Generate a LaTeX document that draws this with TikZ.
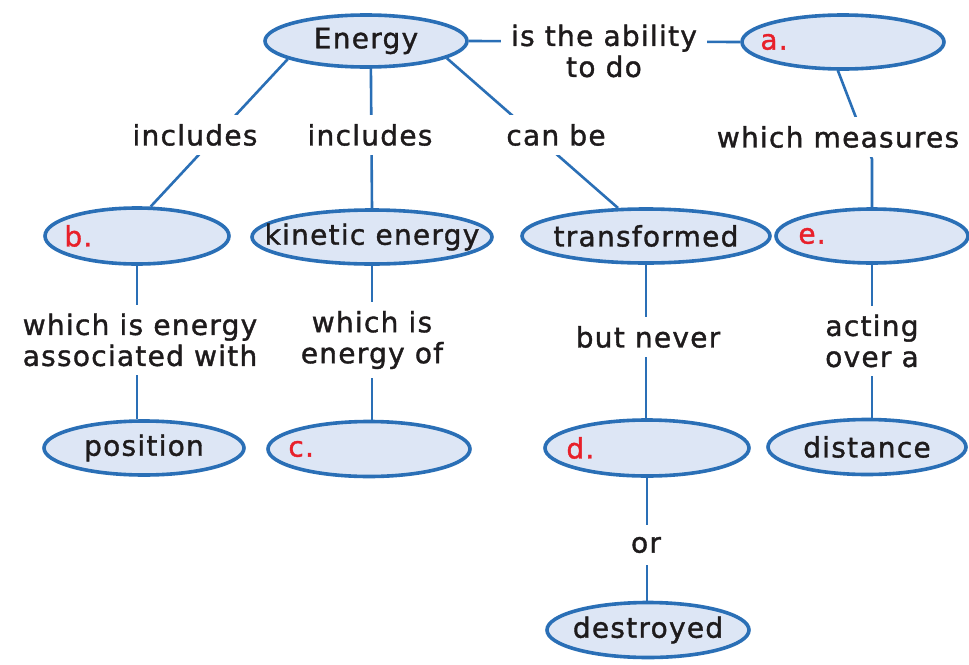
\documentclass[tikz,border=0pt]{standalone}
\usepackage{fontspec}
\setmainfont{DejaVu Sans}[LetterSpace=4.5, FakeBold=1.3]
\usetikzlibrary{shapes.geometric,backgrounds}
\definecolor{ebord}{HTML}{2A6FB6}
\definecolor{efill}{HTML}{DDE6F5}
\definecolor{ered}{HTML}{E8202A}
\definecolor{etxt}{HTML}{1E1B1C}
\begin{document}
\begin{tikzpicture}[x=1pt,y=-1pt,
  font=\fontsize{28}{31}\selectfont,
  ell/.style={ellipse, draw=ebord, fill=efill, line width=3.6pt, inner sep=0pt},
  etext/.style={text=etxt, inner sep=0pt},
  lbl/.style={fill=white, inner xsep=10pt, inner ysep=9pt, align=center, text=etxt},
  con/.style={draw=ebord, line width=2.6pt},
  ans/.style={text=ered, anchor=west, inner sep=0pt}]
\useasboundingbox (0,0) rectangle (969,664);

% ellipses
\node[ell, minimum width=202pt, minimum height=52pt] (energy) at (366,41) {};
\node[ell, minimum width=202pt, minimum height=54pt] (a) at (843,42) {};
\node[ell, minimum width=184pt, minimum height=56pt] (b) at (137,236) {};
\node[ell, minimum width=240pt, minimum height=54pt] (kin) at (372,237) {};
\node[ell, minimum width=248pt, minimum height=54pt] (trans) at (646,236) {};
\node[ell, minimum width=192pt, minimum height=54pt] (e) at (872,236) {};
\node[ell, minimum width=200pt, minimum height=54pt] (pos) at (144,448) {};
\node[ell, minimum width=202pt, minimum height=55pt] (c) at (369,449) {};
\node[ell, minimum width=204pt, minimum height=56pt] (d) at (647,448) {};
\node[ell, minimum width=198pt, minimum height=55pt] (dist) at (867,447) {};
\node[ell, minimum width=202pt, minimum height=55pt] (destr) at (648,630) {};

% ellipse texts
\node[etext] (energyT) at (energy) {Energy};
\node[etext] (kinT) at (kin) {kinetic energy};
\node[etext] (transT) at (trans) {transformed};
\node[etext] (posT) at (pos) {position};
\node[etext] (distT) at (dist) {distance};
\node[etext] (destrT) at (destr) {destroyed};

% answer letters
\node[ans] (aa) at ([xshift=20pt]a.west) {a.};
\node[ans] (ba) at ([xshift=21pt]b.west) {b.};
\node[ans] (ca) at ([xshift=22pt]c.west) {c.};
\node[ans] (da) at ([xshift=23pt]d.west) {d.};
\node[ans] (ea) at ([xshift=24pt]e.west) {e.};

% link labels
\node[lbl] (abil) at (604,51) {is the ability\\to do};
\node[lbl] (inc1) at (195,135) {includes};
\node[lbl] (inc2) at (370,135) {includes};
\node[lbl] (canbe) at (556,135) {can be};
\node[lbl] (wm) at (838,137) {which measures};
\node[lbl] (wie) at (140,340) {which is energy\\associated with};
\node[lbl] (wis) at (372,340) {which is\\energy of};
\node[lbl] (bn) at (648,337) {but never};
\node[lbl] (aoa) at (872,341) {acting\\over a};
\node[lbl, inner ysep=12pt] (or) at (646,545) {or};

% connectors
\begin{pgfonlayer}{background}
\fill[white] (0,0) rectangle (969,664);
\draw[con] (energy.193) -- (b.65);
\draw[con] (energy.-80) -- (kin.north);
\draw[con] (energy.-12) -- (trans.135);
\draw[con] (energy.east) -- (a.west);
\draw[con] (a.-100) -- ([yshift=48pt]e.north) -- (e.north);
\draw[con] (b.south) -- (b.south |- pos.north);
\draw[con] (kin.south) -- (kin.south |- c.north);
\draw[con] (trans.south) -- (trans.south |- d.north);
\draw[con] (e.south) -- (e.south |- dist.north);
\draw[con] (d.south) -- (d.south |- destr.north);
\end{pgfonlayer}
\end{tikzpicture}
\end{document}
